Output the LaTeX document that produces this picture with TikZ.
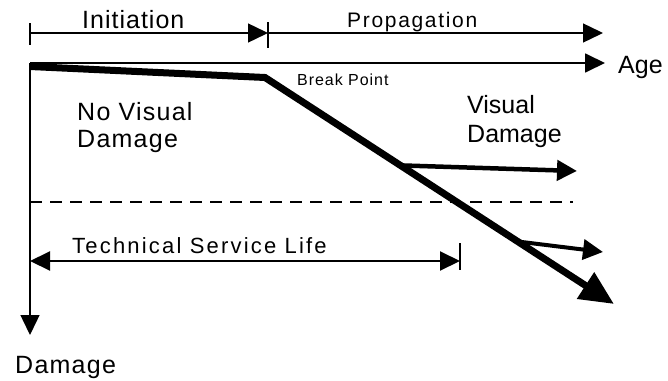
\documentclass[tikz,border=0pt]{standalone}
\usepackage{fontspec}
\setmainfont{Liberation Sans}
\usetikzlibrary{arrows.meta,calc}
% size and letter spacing for one label
\newcommand{\lblfont}[2]{\fontsize{#1}{#1}\selectfont\addfontfeatures{LetterSpace=#2}}
\begin{document}
\begin{tikzpicture}[x=1pt,y=-1pt,
  thinline/.style={line width=1.4pt},
  axisline/.style={line width=1.8pt},
  tip/.style={-{Triangle[length=20pt,width=19pt]}},
  tiptwo/.style={{Triangle[length=20pt,width=19pt]}-{Triangle[length=20pt,width=19pt]}},
  heavy/.style={line width=7pt,-{Triangle[length=34pt,width=30pt]}},
  branch/.style={line width=4.5pt,-{Triangle[length=20pt,width=20pt]}},
  lbl/.style={inner sep=0pt,anchor=base west,align=left}]
\useasboundingbox (0,0) rectangle (668,380);

% axes
\coordinate (O) at (30,63);
\coordinate (Aend) at (605,63);
\coordinate (Dend) at (30,335);
\draw[axisline,tip] (O) -- (Aend);
\draw[thinline,tip] (O) -- (Dend);

% phase bars
\coordinate (Ia) at (30,33);
\coordinate (Ib) at (268,33);
\coordinate (Pb) at (603,33);
\coordinate (Ta) at (30,23);  \coordinate (Tb) at (30,45);
\coordinate (Tc) at (268,22); \coordinate (Td) at (268,48);
\draw[thinline,tip] (Ia) -- (Ib);
\draw[thinline,tip] (Ib) -- (Pb);
\draw[thinline] (Ta) -- (Tb);
\draw[thinline] (Tc) -- (Td);

% damage curve
\coordinate (H0) at (30,66.5);
\coordinate (BP) at (265,77.5);
\coordinate (H1) at (614,304);
\draw[heavy] (H0) -- (BP) -- (H1);

% branches of visual damage
\coordinate (V1) at ($(BP)!0.388!(H1)$);
\coordinate (V1e) at (577,171);
\coordinate (V2) at ($(BP)!0.724!(H1)$);
\coordinate (V2e) at (603,252);
\draw[branch] (V1) -- (V1e);
\draw[line width=4pt,-{Triangle[length=20pt,width=20pt]}] (V2) -- (V2e);

% limit state
\coordinate (La) at (30,202);
\coordinate (Lb) at (573,202);
\draw[line width=2pt,dash pattern=on 12pt off 8pt] (La) -- (Lb);

% technical service life
\coordinate (Sa) at (30,261);
\coordinate (Sb) at (460,261);
\coordinate (Sc) at (460,243); \coordinate (Sd) at (460,270);
\draw[line width=2pt,tiptwo] (Sa) -- (Sb);
\draw[thinline] (Sc) -- (Sd);

% labels (multi-line labels are placed by their last baseline)
\node[lbl,font=\lblfont{25}{4}] (init) at (82,28) {Initiation};
\node[lbl,font=\lblfont{21}{8}] (prop) at (347,27) {Propagation};
\node[lbl,font=\lblfont{25}{0}] (age) at (618,73) {Age};
\node[lbl,font=\lblfont{16}{6}] (bp) at (297,85) {Break Point};
\node[lbl,font={\fontsize{25}{27}\selectfont\addfontfeatures{LetterSpace=5}}] (nvd) at (77,147) {No Visual\\Damage};
\node[lbl,font={\fontsize{25}{29}\selectfont}] (vd) at (467,142) {Visual\\Damage};
\node[lbl,font=\lblfont{22}{10}] (tsl) at (72,253) {Technical Service Life};
\node[lbl,font=\lblfont{25}{5}] (dmg) at (15,373) {Damage};
\end{tikzpicture}
\end{document}
